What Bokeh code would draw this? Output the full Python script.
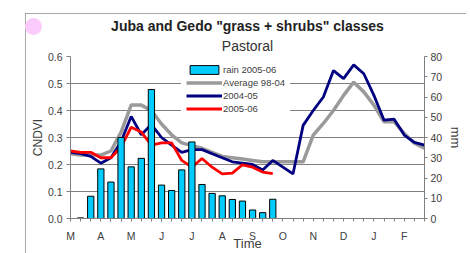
from bokeh.plotting import figure
from bokeh.models import (Range1d, LinearAxis, FixedTicker, NumeralTickFormatter,
                          Legend, LegendItem, Title, InlineStyleSheet)
from bokeh.embed import file_html
from bokeh.resources import INLINE

# ---- data ----
months = ["M", "A", "M", "J", "J", "A", "S", "O", "N", "D", "J", "F"]
dekads_per_month = 3
avg_9804 = [0.24, 0.235, 0.235, 0.235, 0.25, 0.32, 0.42, 0.42, 0.40, 0.35,
            0.31, 0.28, 0.27, 0.26, 0.245, 0.23, 0.225, 0.22, 0.215, 0.21,
            0.21, 0.21, 0.21, 0.21, 0.309, 0.352, 0.40, 0.456, 0.505, 0.469,
            0.42, 0.358, 0.358, 0.315, 0.279, 0.26]
ndvi_0405 = [0.245, 0.24, 0.23, 0.205, 0.225, 0.285, 0.378, 0.31, 0.348, 0.30,
             0.272, 0.245, 0.255, 0.255, 0.24, 0.225, 0.21, 0.205, 0.20, 0.18,
             0.215, 0.19, 0.165, 0.345, 0.40, 0.45, 0.548, 0.518, 0.569, 0.536,
             0.456, 0.364, 0.368, 0.309, 0.282, 0.272]
ndvi_0506 = [0.25, 0.245, 0.245, 0.225, 0.225, 0.265, 0.338, 0.32, 0.272, 0.28,
             0.28, 0.215, 0.19, 0.222, 0.19, 0.165, 0.168, 0.199, 0.19, 0.172,
             0.166]
rain_first_dekad = 1
rain_0506 = [0.3, 11, 24.5, 18, 40, 25.5, 29.7, 63.7, 16.5, 13.8, 24, 37.8,
             16.8, 12.4, 11.2, 9.4, 8.6, 4.2, 2.9, 9.5]
ndvi_ticks = [0, 0.1, 0.2, 0.3, 0.4, 0.5, 0.6]
mm_ticks = [0, 10, 20, 30, 40, 50, 60, 70, 80]

n = len(months) * dekads_per_month
x_all = list(range(n))
x_rain = list(range(rain_first_dekad, rain_first_dekad + len(rain_0506)))

FONT = "Liberation Sans"
TXT = "#404040"

p = figure(width=441, height=240, x_range=Range1d(0, n - 1), y_range=Range1d(0, 0.6),
           output_backend="svg", toolbar_location=None, title=None,
           min_border_left=45, min_border_right=41, min_border_top=43, min_border_bottom=34)
p.margin = (13, 0, 0, 25)
p.stylesheets = [InlineStyleSheet(css="""
:host { outline: 1px solid #8c8c8c; outline-offset: -1px; }
:host::after { content: ""; position: absolute; left: 0px; top: 5px; width: 17px; height: 17px;
               border-radius: 50%; background: #fbcbfb; z-index: 10; }
""")]
p.outline_line_color = None
p.background_fill_color = "white"
p.border_fill_color = "white"
p.extra_y_ranges = {"mm": Range1d(0, 80)}

# grid
p.xgrid.visible = False
p.ygrid.grid_line_color = "#808080"
p.ygrid.grid_line_width = 1

# lines
r_avg = p.line(x_all[:len(avg_9804)], avg_9804, line_color="#9a9a9a", line_width=3.5)
r_04 = p.line(x_all[:len(ndvi_0405)], ndvi_0405, line_color="#000080", line_width=2.8)
r_05 = p.line(x_all[:len(ndvi_0506)], ndvi_0506, line_color="#ff0000", line_width=2.8)
# bars (secondary axis)
r_rain = p.vbar(x=x_rain, top=rain_0506, width=0.62, bottom=0, y_range_name="mm",
                fill_color="#00ccff", line_color="black", line_width=1)

# x axis
xa = p.xaxis[0]
xa.ticker = FixedTicker(ticks=x_all)
xa.major_label_overrides = {i: (months[i // dekads_per_month] if i % dekads_per_month == 0 else "")
                            for i in x_all}
xa.axis_label = "Time"
xa.axis_label_text_font = FONT
xa.axis_label_text_font_style = "normal"
xa.axis_label_text_font_size = "13px"
xa.axis_label_text_color = TXT
xa.axis_label_text_line_height = 1.0
xa.axis_label_standoff = -9
xa.major_tick_out = 3
xa.major_tick_in = 0
xa.minor_tick_line_color = None
xa.axis_line_color = "#808080"
xa.major_tick_line_color = "#808080"
xa.major_label_text_font = FONT
xa.major_label_text_font_size = "10.5px"
xa.major_label_text_color = TXT
xa.major_label_text_line_height = 1.0
xa.major_label_standoff = 8

# left axis
ya = p.yaxis[0]
ya.ticker = FixedTicker(ticks=ndvi_ticks)
ya.formatter = NumeralTickFormatter(format="0.0")
ya.axis_label = "CNDVI"
ya.axis_label_text_font = FONT
ya.axis_label_text_font_style = "normal"
ya.axis_label_text_font_size = "12px"
ya.axis_label_text_color = TXT
ya.axis_label_standoff = 0
ya.major_tick_out = 4
ya.major_tick_in = 0
ya.minor_tick_line_color = None
ya.axis_line_color = "#808080"
ya.major_tick_line_color = "#808080"
ya.major_label_text_font = FONT
ya.major_label_text_font_size = "10.5px"
ya.major_label_text_color = TXT
ya.major_label_standoff = 4

# right axis
ra = LinearAxis(y_range_name="mm", ticker=FixedTicker(ticks=mm_ticks), axis_label="mm")
ra.axis_label_text_font = FONT
ra.axis_label_text_font_style = "normal"
ra.axis_label_text_font_size = "13px"
ra.axis_label_text_color = TXT
ra.axis_label_standoff = 3
ra.major_tick_out = 3
ra.major_tick_in = 0
ra.minor_tick_line_color = None
ra.axis_line_color = "#808080"
ra.major_tick_line_color = "#808080"
ra.major_label_text_font = FONT
ra.major_label_text_font_size = "10.5px"
ra.major_label_text_color = TXT
ra.major_label_standoff = 3
p.add_layout(ra, "right")

# legend
legend = Legend(items=[
    LegendItem(label="rain 2005-06", renderers=[r_rain]),
    LegendItem(label="Average 98-04", renderers=[r_avg]),
    LegendItem(label="2004-05", renderers=[r_04]),
    LegendItem(label="2005-06", renderers=[r_05]),
], location=(111, 99))
legend.background_fill_color = "white"
legend.background_fill_alpha = 1
legend.border_line_alpha = 0
legend.label_text_font = FONT
legend.label_text_font_size = "9.5px"
legend.label_text_color = TXT
legend.glyph_width = 36
legend.glyph_height = 11
legend.label_height = 11
legend.spacing = 2
legend.padding = 5
legend.margin = 0
legend.label_standoff = 1
p.add_layout(legend)

# titles (first added sits nearest the frame)
p.add_layout(Title(text="Pastoral", align="center", text_font=FONT,
                   text_font_size="14px", text_font_style="normal",
                   text_color="#333333", standoff=5, offset=0), "above")
p.add_layout(Title(text='Juba and Gedo "grass + shrubs" classes', align="center",
                   text_font=FONT, text_font_size="14px", text_font_style="bold",
                   text_color="#222222", standoff=0, offset=0), "above")

open("out.html", "w").write(file_html(p, INLINE))
